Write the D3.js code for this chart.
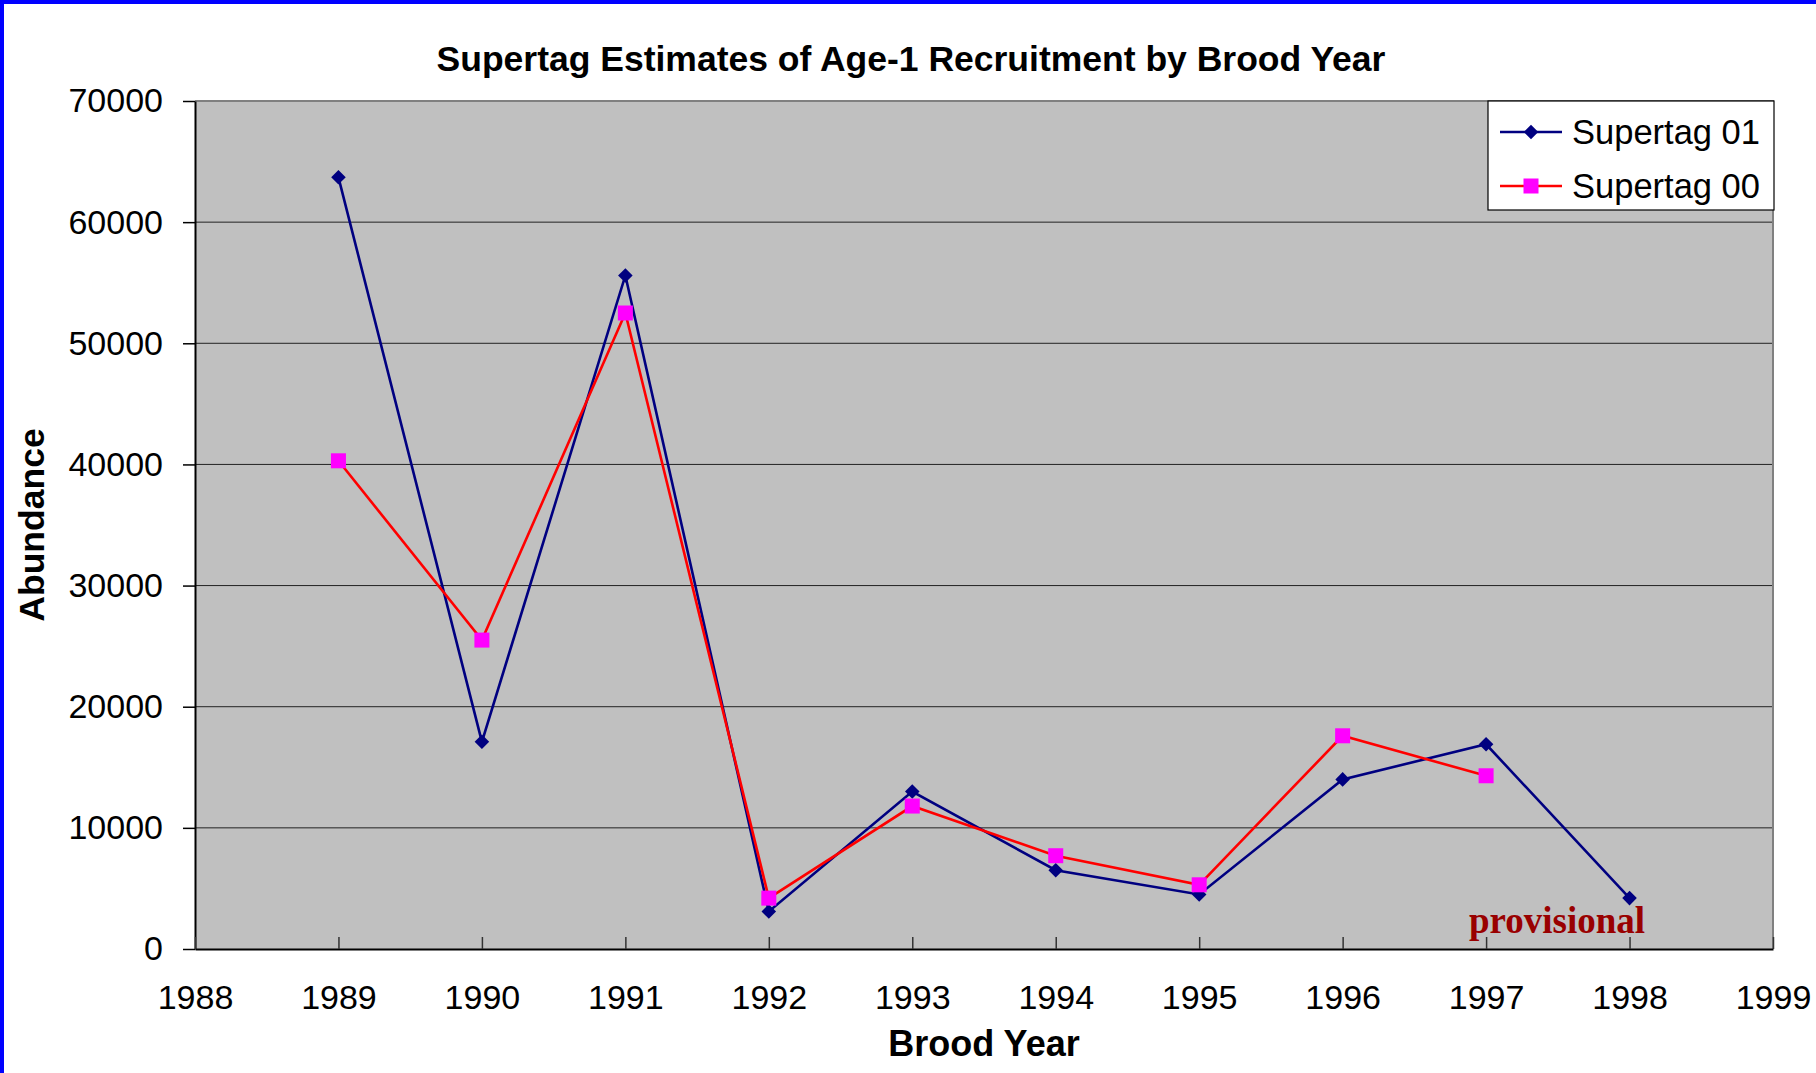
<!DOCTYPE html>
<html>
<meta charset=utf-8>
<head>
<script src="https://d3js.org/d3.v7.min.js"></script>
<style>
  body { margin: 0; background: #fff; }
  text { font-family: "Liberation Sans", Arial, sans-serif; fill: #000; }
</style>
</head>
<body>
<script>

// brood years + the two supertag runs
var years = [1989, 1990, 1991, 1992, 1993, 1994, 1995, 1996, 1997, 1998];
var supertag01 = [63700, 17100, 55600, 3100, 13000, 6500, 4500, 14000, 16900, 4200];
var supertag00 = [40300, 25500, 52500, 4200, 11800, 7700, 5300, 17600, 14300];
var xTicks = [1988, 1989, 1990, 1991, 1992, 1993, 1994, 1995, 1996, 1997, 1998, 1999];
var yTicks = [0, 10000, 20000, 30000, 40000, 50000, 60000, 70000];

var W = 1816, H = 1073;
// plot box (don't call it "top", window.top is read only)
var pLeft = 195, pRight = 1773, pTop = 101, pBottom = 949;

var svg = d3.select('body').append('svg')
    .attr('width', W).attr('height', H);

svg.append('rect').attr('width', W).attr('height', H).attr('fill', '#fff');

// blue frame, only left + top edges show in the slide grab
svg.append('path')
    .attr('d', 'M2,' + H + 'V2H' + W)
    .attr('fill', 'none').attr('stroke', '#0000ff').attr('stroke-width', 4);

var x = d3.scaleLinear().domain([1988, 1999]).range([pLeft, pRight]);
var y = d3.scaleLinear().domain([0, 70000]).range([pBottom, pTop]);

// plot area
svg.append('rect')
    .attr('x', pLeft).attr('y', pTop)
    .attr('width', pRight - pLeft).attr('height', pBottom - pTop)
    .attr('fill', '#c0c0c0');

// gridlines
svg.append('g').selectAll('line').data(yTicks.slice(1, -1)).enter()
    .append('line')
    .attr('x1', pLeft).attr('x2', pRight)
    .attr('y1', function(d){ return y(d); })
    .attr('y2', function(d){ return y(d); })
    .attr('stroke', '#222').attr('stroke-width', 1);

// grey top + right frame
svg.append('path')
    .attr('d', 'M' + pLeft + ',' + pTop + 'H' + pRight + 'V' + pBottom)
    .attr('fill', 'none').attr('stroke', '#808080').attr('stroke-width', 2);

// y axis
var yAxis = svg.append('g')
    .attr('transform', 'translate(' + pLeft + ',0)')
    .call(d3.axisLeft(y).tickValues(yTicks).tickSize(12).tickSizeOuter(0).tickPadding(20).tickFormat(d3.format('d')));
yAxis.select('.domain').attr('stroke', '#000').attr('stroke-width', 2);
yAxis.selectAll('.tick line').attr('stroke', '#000').attr('stroke-width', 1.5);
yAxis.selectAll('text').style('font-size', '34px').style('font-family', '"Liberation Sans", Arial, sans-serif');

// x axis, ticks point up into the plot
var xAxis = svg.append('g')
    .attr('transform', 'translate(0,' + pBottom + ')')
    .call(d3.axisBottom(x).tickValues(xTicks).tickSize(-12).tickSizeOuter(0).tickPadding(36).tickFormat(d3.format('d')));
xAxis.select('.domain').attr('stroke', '#000').attr('stroke-width', 2);
xAxis.selectAll('.tick line').attr('stroke', '#333').attr('stroke-width', 1.5);
xAxis.selectAll('text').style('font-size', '34px').style('font-family', '"Liberation Sans", Arial, sans-serif');

var line = d3.line()
    .x(function(d){ return x(d[0]); })
    .y(function(d){ return y(d[1]); });

var s01 = years.map(function(yr, i){ return [yr, supertag01[i]]; });
var s00 = supertag00.map(function(v, i){ return [years[i], v]; });

svg.append('path').datum(s01)
    .attr('d', line).attr('fill', 'none')
    .attr('stroke', '#000080').attr('stroke-width', 2.6);

svg.append('path').datum(s00)
    .attr('d', line).attr('fill', 'none')
    .attr('stroke', '#ff0000').attr('stroke-width', 2.6);

// markers
var diamond = d3.symbol().type(d3.symbolDiamond2).size(135);

svg.append('g').selectAll('path').data(s01).enter()
    .append('path')
    .attr('d', diamond)
    .attr('transform', function(d){ return 'translate(' + x(d[0]) + ',' + y(d[1]) + ')'; })
    .attr('fill', '#000080');

svg.append('g').selectAll('rect').data(s00).enter()
    .append('rect')
    .attr('x', function(d){ return x(d[0]) - 7.5; })
    .attr('y', function(d){ return y(d[1]) - 7.5; })
    .attr('width', 15).attr('height', 15)
    .attr('fill', '#ff00ff');

svg.append('text')
    .attr('x', 1469).attr('y', 933)
    .style('font-family', '"Liberation Serif", "Times New Roman", serif')
    .style('font-weight', 'bold').style('font-size', '37px')
    .style('fill', '#990000')
    .text('provisional');

// titles
svg.append('text')
    .attr('x', 911).attr('y', 71)
    .attr('text-anchor', 'middle')
    .style('font-weight', 'bold').style('font-size', '35.5px')
    .text('Supertag Estimates of Age-1 Recruitment by Brood Year');

svg.append('text')
    .attr('x', 984).attr('y', 1056)
    .attr('text-anchor', 'middle')
    .style('font-weight', 'bold').style('font-size', '36px')
    .text('Brood Year');

svg.append('text')
    .attr('transform', 'translate(44,525) rotate(-90)')
    .attr('text-anchor', 'middle')
    .style('font-weight', 'bold').style('font-size', '35.5px')
    .text('Abundance');

// legend
var lg = svg.append('g');
lg.append('rect')
    .attr('x', 1488).attr('y', 101).attr('width', 286).attr('height', 109)
    .attr('fill', '#fff').attr('stroke', '#000').attr('stroke-width', 1.2);

var legendRows = [
  { name: 'Supertag 01', color: '#000080', mark: '#000080', cy: 132, shape: 'diamond' },
  { name: 'Supertag 00', color: '#ff0000', mark: '#ff00ff', cy: 186, shape: 'square' }
];

legendRows.forEach(function(r){
  lg.append('line')
    .attr('x1', 1500).attr('x2', 1562).attr('y1', r.cy).attr('y2', r.cy)
    .attr('stroke', r.color).attr('stroke-width', 2.4);
  if (r.shape == 'diamond') {
    lg.append('path')
      .attr('d', diamond)
      .attr('transform', 'translate(1531,' + r.cy + ')')
      .attr('fill', r.mark);
  } else {
    lg.append('rect')
      .attr('x', 1531 - 7.5).attr('y', r.cy - 7.5).attr('width', 15).attr('height', 15)
      .attr('fill', r.mark);
  }
  lg.append('text')
    .attr('x', 1572).attr('y', r.cy)
    .attr('dy', '0.35em')
    .style('font-size', '34.5px')
    .text(r.name);
});

</script>
</body>
</html>
